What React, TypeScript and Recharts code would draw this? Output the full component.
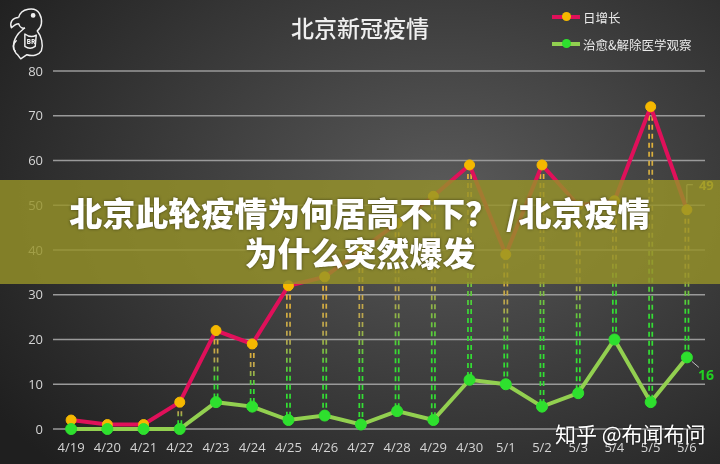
import React from 'react';
import { ComposedChart, Line, Bar, XAxis, YAxis, CartesianGrid } from 'recharts';

const dates = ['4/19', '4/20', '4/21', '4/22', '4/23', '4/24', '4/25', '4/26', '4/27', '4/28', '4/29', '4/30', '5/1', '5/2', '5/3', '5/4', '5/5', '5/6'];
const dailyNew = [2, 1, 1, 6, 22, 19, 32, 34, 40, 46, 52, 59, 39, 59, 50, 51, 72, 49];
const recovered = [0, 0, 0, 0, 6, 5, 2, 3, 1, 4, 2, 11, 10, 5, 8, 20, 6, 16];
const yTicks = [0, 10, 20, 30, 40, 50, 60, 70, 80];

const data = dates.map((date, i) => ({ date, dailyNew: dailyNew[i], recovered: recovered[i] }));

const CJK = '"Noto Sans CJK SC", "Noto Sans", sans-serif';
const last = dates.length - 1;

// dashed double drop line between the two points of each day
const DropLines = (props: any) => {
  const { x, y, width, height, index } = props;
  if (height == null || height <= 0) return <g />;
  const cx = x + width / 2;
  const id = `drop${index}`;
  return (
    <g>
      <defs>
        <linearGradient id={id} gradientUnits="userSpaceOnUse" x1={0} y1={y} x2={0} y2={y + height}>
          <stop offset="0%" stopColor="#f2b630" />
          <stop offset="40%" stopColor="#b8a450" />
          <stop offset="70%" stopColor="#33dd33" />
          <stop offset="100%" stopColor="#33e033" />
        </linearGradient>
      </defs>
      <line x1={cx - 1.6} x2={cx - 1.6} y1={y} y2={y + height} stroke={`url(#${id})`} strokeWidth={1.7} strokeDasharray="5 4" />
      <line x1={cx + 1.6} x2={cx + 1.6} y1={y} y2={y + height} stroke={`url(#${id})`} strokeWidth={1.7} strokeDasharray="5 4" />
    </g>
  );
};

const redLabel = (p: any) => {
  if (p.index !== last) return <g />;
  return (
    <g>
      <polyline points={`${p.x},${p.y - 7} ${p.x},${p.y - 25} ${p.x + 6},${p.y - 25}`} fill="none" stroke="#c8c8a0" strokeWidth={1} />
      <text x={p.x + 12} y={p.y - 20} fill="#e8d030" fontSize={13} fontWeight={700} fontFamily="Open Sans, sans-serif">{p.value}</text>
    </g>
  );
};

const greenLabel = (p: any) => {
  if (p.index !== last) return <g />;
  return (
    <g>
      <line x1={p.x + 5} y1={p.y + 4} x2={p.x + 12} y2={p.y + 10} stroke="#c0c0c0" strokeWidth={1} />
      <text x={p.x + 11} y={p.y + 23} fill="#22d022" fontSize={14} fontWeight={700} fontFamily="Open Sans, sans-serif">{p.value}</text>
    </g>
  );
};

function Logo() {
  return (
    <svg width={50} height={60} style={{ position: 'absolute', left: 4, top: 3 }} viewBox="0 0 48 58">
      <g fill="none" stroke="#f0f0f0" strokeWidth={1.4} strokeLinejoin="round">
        <path d="M14 14 C 16 5, 30 3, 34 10 C 38 17, 36 24, 32 27 C 36 32, 38 40, 36 46 C 34 50, 28 52, 22 50 L 16 54 L 13 50 C 8 46, 8 38, 12 32 C 14 28, 18 26, 20 24" />
        <path d="M14 14 C 8 14, 5 19, 7 24 C 9 22, 11 20, 14 20 C 15 24, 18 25, 20 24" />
        <circle cx={28} cy={12} r={1.6} fill="#f0f0f0" />
        <path d="M20 30 C 24 33, 28 33, 31 31 L 30 42 C 27 44, 23 44, 20 42 Z" />
        <text x={21.5} y={40} fontSize={6.5} fill="#f0f0f0" stroke="none" fontWeight={700} fontFamily="Open Sans, sans-serif">BR</text>
        <path d="M12 36 C 8 40, 8 44, 11 47" />
      </g>
    </svg>
  );
}

export default function App() {
  return (
    <div
      style={{
        position: 'fixed', left: 0, top: 0, width: 720, height: 464, overflow: 'hidden',
        background: 'radial-gradient(ellipse 75% 85% at 62% 42%, #5a5a5a 0%, #3c3c3c 50%, #1f1f1f 100%)',
        fontFamily: CJK,
      }}
    >
      <Logo />
      <div style={{ position: 'absolute', left: 0, width: 720, top: 11, textAlign: 'center', color: '#efefef', fontSize: 23, fontWeight: 500, lineHeight: '32px' }}>
        北京新冠疫情
      </div>

      {/* legend */}
      <div style={{ position: 'absolute', left: 552, top: 7, color: '#eaeaea', fontSize: 12.5 }}>
        <div style={{ display: 'flex', alignItems: 'center', height: 20 }}>
          <span style={{ position: 'relative', width: 28, height: 4, background: '#e0105a', marginRight: 3 }}>
            <span style={{ position: 'absolute', left: 10, top: -3, width: 9, height: 9, borderRadius: 5, background: '#f5b800' }} />
          </span>
          日增长
        </div>
        <div style={{ display: 'flex', alignItems: 'center', height: 20, marginTop: 7 }}>
          <span style={{ position: 'relative', width: 28, height: 4, background: '#92d050', marginRight: 3 }}>
            <span style={{ position: 'absolute', left: 10, top: -3, width: 9, height: 9, borderRadius: 5, background: '#2ee02e' }} />
          </span>
          治愈&amp;解除医学观察
        </div>
      </div>

      <div style={{ position: 'absolute', left: 0, top: 0 }}>
        <ComposedChart width={720} height={464} data={data} margin={{ top: 71, right: 15, bottom: 5, left: 0 }}>
          <CartesianGrid vertical={false} stroke="#9a9a9a" strokeWidth={1.5} />
          <XAxis
            dataKey="date" axisLine={false} tickLine={false} height={30} tickMargin={8}
            tick={{ fill: '#d4d4d4', fontSize: 13, fontFamily: 'Open Sans, sans-serif' }}
          />
          <YAxis
            domain={[0, 80]} ticks={yTicks} axisLine={false} tickLine={false} width={53} tickMargin={4}
            tick={{ fill: '#d4d4d4', fontSize: 13, fontFamily: 'Open Sans, sans-serif' }}
          />
          <Bar dataKey={(d: any) => [d.recovered, d.dailyNew]} shape={DropLines} isAnimationActive={false} />
          <Line
            dataKey="dailyNew" stroke="#e0105a" strokeWidth={4} isAnimationActive={false}
            dot={{ r: 5, fill: '#f5b800', stroke: '#f5b800', strokeWidth: 1 }} label={redLabel}
          />
          <Line
            dataKey="recovered" stroke="#92d050" strokeWidth={4} isAnimationActive={false}
            dot={{ r: 5.5, fill: '#2ee02e', stroke: '#2ee02e', strokeWidth: 1 }} label={greenLabel}
          />
        </ComposedChart>
      </div>

      {/* article title banner */}
      <div
        style={{
          position: 'absolute', left: 0, top: 180, width: 720, height: 104, background: 'rgba(150, 146, 40, 0.82)',
          color: '#ffffff', fontSize: 33, fontWeight: 900, textAlign: 'center', lineHeight: '40px', paddingTop: 12,
          boxSizing: 'border-box', textShadow: '0 0 3px rgba(0,0,0,0.55)', whiteSpace: 'nowrap',
        }}
      >
        <div>北京此轮疫情为何居高不下？ /北京疫情</div>
        <div>为什么突然爆发</div>
      </div>

      <div style={{ position: 'absolute', left: 555, top: 418, color: '#ffffff', fontSize: 21, lineHeight: '30px', textShadow: '0 0 2px rgba(0,0,0,0.6)' }}>
        知乎 @布闻布问
      </div>
    </div>
  );
}
